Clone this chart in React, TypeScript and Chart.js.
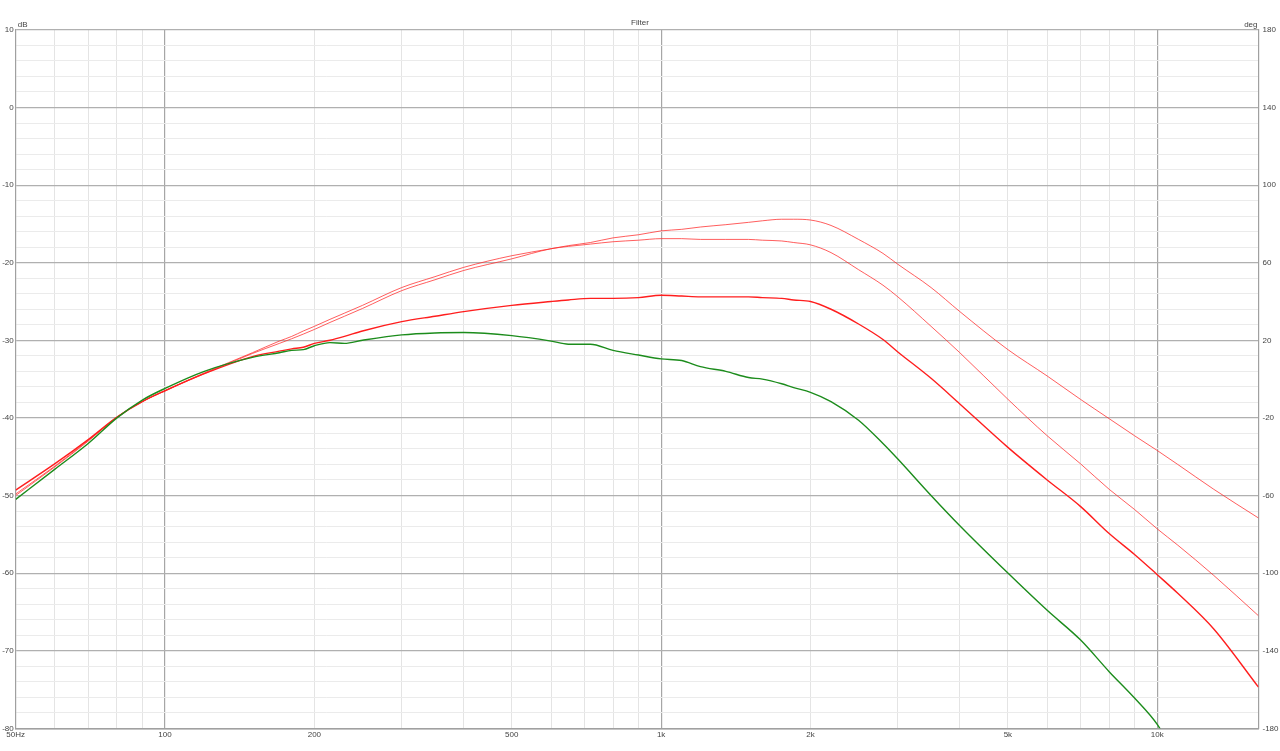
import React, { useEffect, useRef } from 'react';
import { Chart, registerables } from 'chart.js';

Chart.register(...registerables);

// Frequencies (Hz) shared by all curves
const freqs = [50, 60, 70, 80, 90, 100, 120, 150, 170, 180, 190, 200, 215, 230, 250, 300, 350, 400, 500, 600, 650, 720, 800, 900, 1000, 1100, 1200, 1350, 1500, 1600, 1750, 1850, 2000, 2200, 2500, 2800, 3000, 3500, 4000, 5000, 6000, 7000, 8000, 9000, 10000, 11000, 13000, 16000];

// Top red curve (dB)
const redTop = [-49.8, -46.2, -42.9, -39.9, -37.9, -36.5, -34.2, -31.6, -30.1, -29.5, -28.8, -28.2, -27.3, -26.5, -25.5, -23.2, -21.8, -20.6, -19.1, -18.2, -17.8, -17.4, -16.8, -16.4, -15.9, -15.7, -15.4, -15.1, -14.8, -14.6, -14.4, -14.4, -14.5, -15.2, -17.0, -18.8, -20.2, -23.2, -26.3, -31.2, -34.6, -37.6, -40.1, -42.3, -44.2, -46.0, -49.2, -52.9];

// Second red curve (dB)
const redMid = [-50.0, -46.3, -43.0, -39.9, -37.9, -36.5, -34.3, -31.7, -30.4, -29.8, -29.2, -28.6, -27.7, -26.9, -25.9, -23.6, -22.2, -21.0, -19.5, -18.2, -17.9, -17.6, -17.3, -17.1, -16.9, -16.9, -17.0, -17.0, -17.0, -17.1, -17.2, -17.4, -17.7, -18.7, -20.9, -22.9, -24.4, -28.2, -31.6, -37.6, -42.3, -45.9, -49.2, -51.8, -54.3, -56.4, -60.3, -65.5];

// Third red curve (dB)
const redLow = [-49.3, -45.9, -42.8, -39.9, -37.9, -36.5, -34.3, -32.1, -31.4, -31.1, -30.9, -30.4, -30.0, -29.5, -28.8, -27.6, -26.9, -26.3, -25.5, -25.0, -24.8, -24.6, -24.6, -24.5, -24.2, -24.3, -24.4, -24.4, -24.4, -24.5, -24.6, -24.8, -25.0, -26.0, -27.9, -29.9, -31.5, -34.9, -38.2, -43.8, -48.0, -51.4, -54.9, -57.6, -60.2, -62.6, -67.2, -74.7];

// Green curve (dB)
const green = [-50.5, -46.6, -43.3, -40.0, -37.7, -36.2, -34.0, -32.2, -31.6, -31.3, -31.2, -30.7, -30.3, -30.4, -30.0, -29.3, -29.05, -29.0, -29.4, -30.1, -30.5, -30.5, -31.3, -31.9, -32.4, -32.6, -33.4, -34.0, -34.8, -35.0, -35.6, -36.1, -36.7, -37.9, -40.3, -43.3, -45.3, -50.0, -53.9, -60.0, -64.8, -68.6, -72.7, -76.1, -79.5, -84.0, null, null];

// Axis ticks
const xGridTicks = [50, 60, 70, 80, 90, 100, 200, 300, 400, 500, 600, 700, 800, 900, 1000, 2000, 3000, 4000, 5000, 6000, 7000, 8000, 9000, 10000, 16000];
const xLabelMap: Record<number, string> = { 50: '50Hz', 100: '100', 200: '200', 500: '500', 1000: '1k', 2000: '2k', 5000: '5k', 10000: '10k' };
const xMajor = [100, 1000, 10000];

const FONT = '"Liberation Sans", Arial, sans-serif';

const toPts = (ys: (number | null)[]) => freqs.map((f, i) => ({ x: f, y: ys[i] }));

const unitPlugin = {
  id: 'unitLabels',
  afterDraw(chart: any) {
    const { ctx, chartArea } = chart;
    ctx.save();
    ctx.font = `8px ${FONT}`;
    ctx.fillStyle = '#444';
    ctx.textBaseline = 'bottom';
    ctx.textAlign = 'left';
    ctx.fillText('dB', chartArea.left + 2, chartArea.top - 1);
    ctx.textAlign = 'right';
    ctx.fillText('deg', chartArea.right - 1, chartArea.top - 1);
    ctx.restore();
  },
};

export default function App() {
  const ref = useRef<HTMLCanvasElement | null>(null);

  useEffect(() => {
    document.body.style.margin = '0';
    if (!ref.current) return;
    const chart = new Chart(ref.current, {
      type: 'line',
      data: {
        datasets: [
          { label: 'green', data: toPts(green) as any, borderColor: '#1c8c1c', borderWidth: 1.4, pointRadius: 0, cubicInterpolationMode: 'monotone', order: 0, spanGaps: false },
          { label: 'redLow', data: toPts(redLow) as any, borderColor: '#ff1e1e', borderWidth: 1.4, pointRadius: 0, cubicInterpolationMode: 'monotone', order: 1 },
          { label: 'redMid', data: toPts(redMid) as any, borderColor: 'rgba(255,40,40,0.75)', borderWidth: 1, pointRadius: 0, cubicInterpolationMode: 'monotone', order: 2 },
          { label: 'redTop', data: toPts(redTop) as any, borderColor: 'rgba(255,40,40,0.75)', borderWidth: 1, pointRadius: 0, cubicInterpolationMode: 'monotone', order: 3 },
        ],
      },
      options: {
        responsive: false,
        animation: false,
        parsing: false as any,
        layout: { padding: 0 },
        plugins: {
          legend: { display: false },
          tooltip: { enabled: false },
          title: {
            display: true,
            text: 'Filter',
            color: '#444',
            font: { size: 8, family: FONT, weight: 'normal' as any },
            padding: { top: 18, bottom: 2.3 },
          },
        },
        scales: {
          x: {
            type: 'logarithmic',
            min: 50,
            max: 16000,
            afterBuildTicks: (scale: any) => {
              scale.ticks = xGridTicks.map((v) => ({ value: v }));
            },
            afterFit: (scale: any) => {
              scale.height = 22.7;
            },
            ticks: {
              autoSkip: false,
              maxRotation: 0,
              minRotation: 0,
              padding: 2,
              color: '#444',
              font: { size: 8, family: FONT },
              callback: (v: any) => xLabelMap[Number(v)] ?? '',
            },
            grid: {
              drawTicks: false,
              color: (ctx: any) => {
                const v = ctx.tick?.value;
                if (v === 50 || v === 16000) return 'rgba(0,0,0,0)';
                return xMajor.includes(v) ? '#a6a6a6' : '#e4e4e4';
              },
              lineWidth: (ctx: any) => (xMajor.includes(ctx.tick?.value) ? 1.2 : 1),
            },
            border: { display: true, color: '#a0a0a0', width: 1.5 },
          },
          y: {
            type: 'linear',
            position: 'left',
            min: -80,
            max: 10,
            afterFit: (scale: any) => {
              scale.width = 15.7;
            },
            ticks: {
              stepSize: 2,
              autoSkip: false,
              padding: 2,
              color: '#444',
              font: { size: 8, family: FONT },
              callback: (v: any) => (Number(v) % 10 === 0 ? String(v) : ''),
            },
            grid: {
              drawTicks: false,
              color: (ctx: any) => (ctx.tick?.value % 10 === 0 ? '#b0b0b0' : '#ebebeb'),
              lineWidth: (ctx: any) => (ctx.tick?.value % 10 === 0 ? 1.2 : 1),
            },
            border: { display: true, color: '#a0a0a0', width: 1.2 },
          },
          y2: {
            type: 'linear',
            position: 'right',
            min: -180,
            max: 180,
            afterFit: (scale: any) => {
              scale.width = 21.5;
            },
            ticks: {
              stepSize: 40,
              autoSkip: false,
              padding: 4,
              color: '#444',
              font: { size: 8, family: FONT },
            },
            grid: { drawOnChartArea: false, drawTicks: false },
            border: { display: true, color: '#a0a0a0', width: 1.2 },
          },
        },
      },
      plugins: [unitPlugin],
    });
    return () => chart.destroy();
  }, []);

  return (
    <div style={{ width: 1280, height: 751, background: '#fff' }}>
      <canvas ref={ref} width={1280} height={751} style={{ display: 'block', width: 1280, height: 751 }} />
    </div>
  );
}
